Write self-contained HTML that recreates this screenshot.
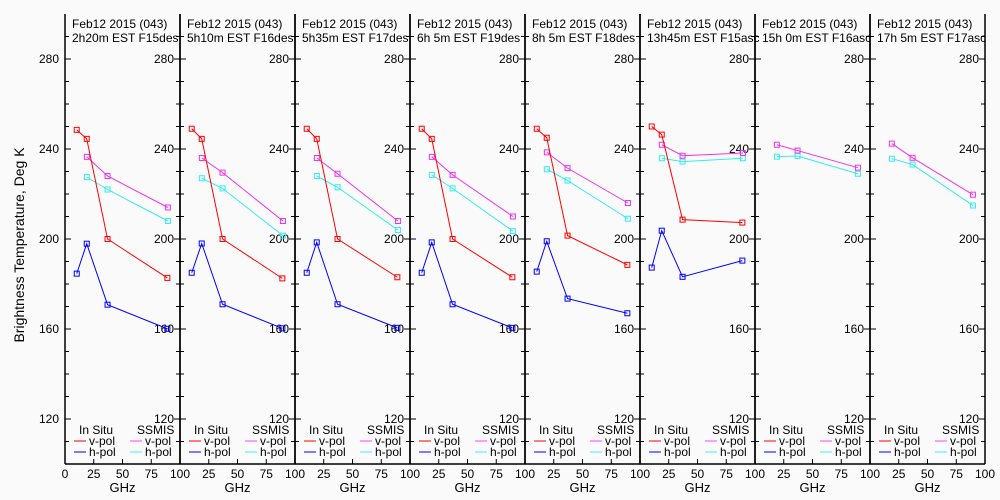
<!DOCTYPE html>
<html><head><meta charset="utf-8"><style>
html,body{margin:0;padding:0;background:#fafafa;}
svg{display:block;font-family:"Liberation Sans",sans-serif;}
</style></head><body>
<svg id="chart" width="1000" height="500" viewBox="0 0 1000 500"></svg>
<script>
const titles = ["2h20m EST F15des","5h10m EST F16des","5h35m EST F17des","6h 5m EST F19des","8h 5m EST F18des","13h45m EST F15asc","15h 0m EST F16asc","17h 5m EST F17asc"];
const insituFreq = [10.2, 18.9, 37, 89];
const ssmisFreq = [19, 37, 89.5];
const vInsitu = [[248.5,244.5,200,182.7],[249,244.5,200,182.5],[249,244.5,200,183],[249,244.5,200,183],[249,245,201.5,188.5],[250,246.4,208.6,207.3],null,null];
const hInsitu = [[184.6,197.9,170.8,160.1],[185,198,171,160.3],[185,198.5,171,160.5],[185,198.5,171,160.5],[185.5,199,173.5,167],[187.3,203.7,183.2,190.4],null,null];
const vSsmis = [[236.5,228,214],[236,229.5,208],[236,229,208],[236.5,228.5,210],[238.5,231.5,216],[241.9,237,238.2],[241.9,239.3,231.7],[242.4,236.1,219.7]];
const hSsmis = [[227.5,222,208],[227,222.5,201.5],[228,223,204],[228.5,222.5,203.5],[231,226,209],[235.9,234.4,235.9],[236.6,236.9,229],[235.7,233.1,214.9]];
const yTicks = [120,160,200,240,280];
const xTicks = [0,25,50,75,100];

const NS="http://www.w3.org/2000/svg";
const svg=document.getElementById('chart');
function el(tag,attrs,parent){const e=document.createElementNS(NS,tag);for(const k in attrs)e.setAttribute(k,attrs[k]);(parent||svg).appendChild(e);return e;}
const P0=65,PW=115,TOP=14,BOT=464;
function xs(i,f){return P0+i*PW+f*PW/100;}
function ys(t){return 59+(280-t)*2.25;}

const yt=el('text',{x:24,y:245,'font-size':14,'text-anchor':'middle',transform:'rotate(-90 24 245)'});


yt.textContent='Brightness Temperature, Deg K';

function series(i,freqs,vals,color,name){
  if(!vals)return;
  const g=el('g',{});
  
  
  el('polyline',{points:vals.map((v,k)=>xs(i,freqs[k])+','+ys(v)).join(' '),fill:'none',stroke:color,'stroke-width':1},g);
  vals.forEach((v,k)=>{const r=el('rect',{x:xs(i,freqs[k])-2.5,y:ys(v)-2.5,width:5,height:5,fill:'none',stroke:color,'stroke-width':1},g);
    
    });
}

for(let i=0;i<8;i++){
  const x0=P0+i*PW,x1=x0+PW;
  const g=el('g',{});
  
  
  el('line',{x1:x0,y1:TOP,x2:x0,y2:BOT,stroke:'#000','stroke-width':1.5},g);
  el('line',{x1:x1,y1:TOP,x2:x1,y2:BOT,stroke:'#000','stroke-width':1.5},g);
  el('line',{x1:x0,y1:BOT,x2:x1,y2:BOT,stroke:'#000','stroke-width':1.5},g);
  for(let t=110;t<=290;t+=10){
    const L=(t%40===0)?6:4;
    el('line',{x1:x0,y1:ys(t),x2:x0+L,y2:ys(t),stroke:'#000'},g);
    el('line',{x1:x1-L,y1:ys(t),x2:x1,y2:ys(t),stroke:'#000'},g);
  }
  yTicks.forEach(t=>{
    const tx=el('text',{x:x1-6,y:ys(t)+4,'font-size':12,'text-anchor':'end'},g);
    
    
    tx.textContent=t;
    if(i===0){const t2=el('text',{x:x0-6,y:ys(t)+4,'font-size':12,'text-anchor':'end'},g);
      
      
      t2.textContent=t;}
  });
  xTicks.forEach(f=>{
    el('line',{x1:xs(i,f),y1:BOT,x2:xs(i,f),y2:BOT-5,stroke:'#000'},g);
    if(f===0&&i>0)return;
    const tx=el('text',{x:xs(i,f),y:478,'font-size':12,'text-anchor':'middle'},g);
    
    
    tx.textContent=f;
  });
  const gx=el('text',{x:x0+PW/2,y:492,'font-size':13,'text-anchor':'middle'},g);
  
  
  gx.textContent='GHz';
  const t1=el('text',{x:x0+7,y:28,'font-size':12},g);
  
  
  t1.textContent='Feb12 2015 (043)';
  const t2=el('text',{x:x0+7,y:42,'font-size':12},g);
  
  
  t2.textContent=titles[i];
  // legend
  const lg=el('g',{},g);
  
  
  [['In Situ',x0+14],['SSMIS',x0+72]].forEach(a=>{const t=el('text',{x:a[1],y:434,'font-size':12},lg);t.textContent=a[0];});
  [['#ff0000',x0+9,441,'v-pol'],['#0000ff',x0+9,452,'h-pol'],['#ff44ff',x0+65,441,'v-pol'],['#44eeee',x0+65,452,'h-pol']].forEach(a=>{
    el('line',{x1:a[1],y1:a[2],x2:a[1]+12,y2:a[2],stroke:a[0]},lg);
    const t=el('text',{x:a[1]+15,y:a[2]+4,'font-size':12},lg);t.textContent=a[3];
  });
  series(i,ssmisFreq,hSsmis[i],'#33eeee','ssmis-h-pol');
  series(i,ssmisFreq,vSsmis[i],'#ee33ee','ssmis-v-pol');
  series(i,insituFreq,vInsitu[i],'#ff0000','insitu-v-pol');
  series(i,insituFreq,hInsitu[i],'#0000ff','insitu-h-pol');
}
</script>
</body></html>
